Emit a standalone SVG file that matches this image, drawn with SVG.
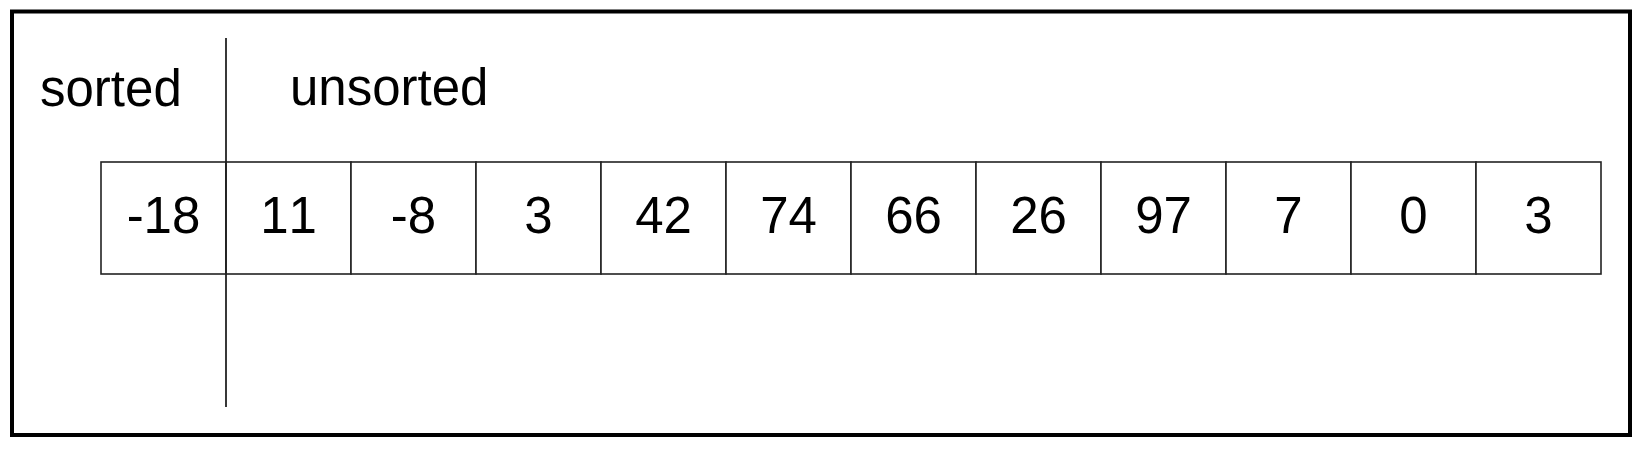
<svg xmlns="http://www.w3.org/2000/svg" width="1643" height="449" viewBox="0 0 1643 449">
<style>
.t{font-family:"Liberation Sans",Arial,sans-serif;font-size:51px;fill:#000;font-kerning:none}
.c{text-anchor:middle}
.cell{fill:#fff;stroke:#222;stroke-width:1.6}
</style>
<rect x="0" y="0" width="1643" height="449" fill="#fff"/>
<rect x="12" y="11.5" width="1618" height="423.5" fill="none" stroke="#000" stroke-width="4"/>
<text class="t" x="40" y="106">sorted</text>
<text class="t" x="290" y="105">unsorted</text>
<g id="cells">
<g id="n0"><rect class="cell" x="101" y="162" width="125" height="112"/><text class="t c" x="163.5" y="233">-18</text></g>
<g id="n1"><rect class="cell" x="226" y="162" width="125" height="112"/><text class="t c" x="288.5" y="233">11</text></g>
<g id="n2"><rect class="cell" x="351" y="162" width="125" height="112"/><text class="t c" x="413.5" y="233">-8</text></g>
<g id="n3"><rect class="cell" x="476" y="162" width="125" height="112"/><text class="t c" x="538.5" y="233">3</text></g>
<g id="n4"><rect class="cell" x="601" y="162" width="125" height="112"/><text class="t c" x="663.5" y="233">42</text></g>
<g id="n5"><rect class="cell" x="726" y="162" width="125" height="112"/><text class="t c" x="788.5" y="233">74</text></g>
<g id="n6"><rect class="cell" x="851" y="162" width="125" height="112"/><text class="t c" x="913.5" y="233">66</text></g>
<g id="n7"><rect class="cell" x="976" y="162" width="125" height="112"/><text class="t c" x="1038.5" y="233">26</text></g>
<g id="n8"><rect class="cell" x="1101" y="162" width="125" height="112"/><text class="t c" x="1163.5" y="233">97</text></g>
<g id="n9"><rect class="cell" x="1226" y="162" width="125" height="112"/><text class="t c" x="1288.5" y="233">7</text></g>
<g id="n10"><rect class="cell" x="1351" y="162" width="125" height="112"/><text class="t c" x="1413.5" y="233">0</text></g>
<g id="n11"><rect class="cell" x="1476" y="162" width="125" height="112"/><text class="t c" x="1538.5" y="233">3</text></g>
</g>
<g id="connectors">
<line x1="226" y1="38" x2="226" y2="407" stroke="#222" stroke-width="1.8"/>
</g>
</svg>
